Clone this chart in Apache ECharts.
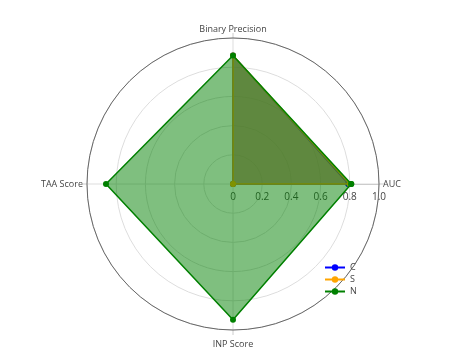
<!DOCTYPE html>
<html><head><meta charset="utf-8">
<script src="https://cdn.jsdelivr.net/npm/echarts@6/dist/echarts.min.js"></script>
<style>html,body{margin:0;padding:0;background:#fff}#c{width:469px;height:360px}</style>
</head><body><div id="c"></div>
<script>
const categories = ['AUC', 'Binary Precision', 'TAA Score', 'INP Score'];
const seriesNames = ['CNN', 'SVM', 'NN'];
const cnnValues = [0.79, 0.88, 0, 0];
const svmValues = [0.80, 0.88, 0, 0];
const nnValues = [0.81, 0.88, 0.87, 0.93];
const radialTicks = [0, 0.2, 0.4, 0.6, 0.8, 1.0];

const colors = ['#0000ff', '#ffa500', '#008000'];
const allValues = [cnnValues, svmValues, nnValues];

function toPoints(vals) {
  const pts = vals.map((v, i) => [v, i * 90]);
  pts.push([vals[0], 0]);
  return pts;
}

const chart = echarts.init(document.getElementById('c'), null, {renderer: 'canvas'});
chart.setOption({
  animation: false,
  textStyle: {fontFamily: 'Open Sans', color: '#444'},
  polar: {center: [233, 184], radius: 146},
  angleAxis: {
    type: 'value', min: 0, max: 360, interval: 90, startAngle: 0, clockwise: false,
    axisLine: {lineStyle: {color: '#666', width: 1}},
    axisTick: {show: true, length: 5, lineStyle: {color: '#ccc'}},
    splitLine: {show: true, lineStyle: {color: '#ddd'}},
    axisLabel: {
      fontSize: 9, color: '#444', margin: 4, fontFamily: 'Open Sans',
      formatter: v => {
        if (v >= 360) return '';
        const i = Math.round(v / 90);
        return i === 3 ? '{b|' + categories[i] + '}' : categories[i];
      },
      rich: {b: {fontSize: 9, color: '#444', fontFamily: 'Open Sans', padding: [6, 0, 0, 0]}}
    }
  },
  radiusAxis: {
    type: 'value', min: 0, max: 1, interval: 0.2,
    axisLine: {show: true, lineStyle: {color: '#ccc'}},
    axisTick: {show: false},
    splitLine: {show: true, lineStyle: {color: '#ddd'}},
    axisLabel: {fontSize: 10, color: '#444', fontFamily: 'Open Sans', margin: -8, verticalAlign: 'top',
      formatter: v => radialTicks.includes(Math.round(v * 10) / 10) ? (v === 0 ? '0' : v.toFixed(1)) : ''}
  },
  legend: {
    orient: 'vertical', left: 319, top: 258, itemWidth: 20, itemHeight: 8, itemGap: 3,
    data: seriesNames,
    textStyle: {fontSize: 9, color: '#444', width: 8, overflow: 'truncate', ellipsis: ''}
  },
  series: allValues.map((vals, k) => ({
    type: 'line', coordinateSystem: 'polar', name: seriesNames[k],
    data: toPoints(vals),
    symbol: 'circle', symbolSize: 6,
    lineStyle: {color: colors[k], width: 1.5},
    itemStyle: {color: colors[k]},
    areaStyle: {color: colors[k], opacity: 0.5, origin: 'start'},
    z: 2 + k
  }))
});
</script></body></html>
